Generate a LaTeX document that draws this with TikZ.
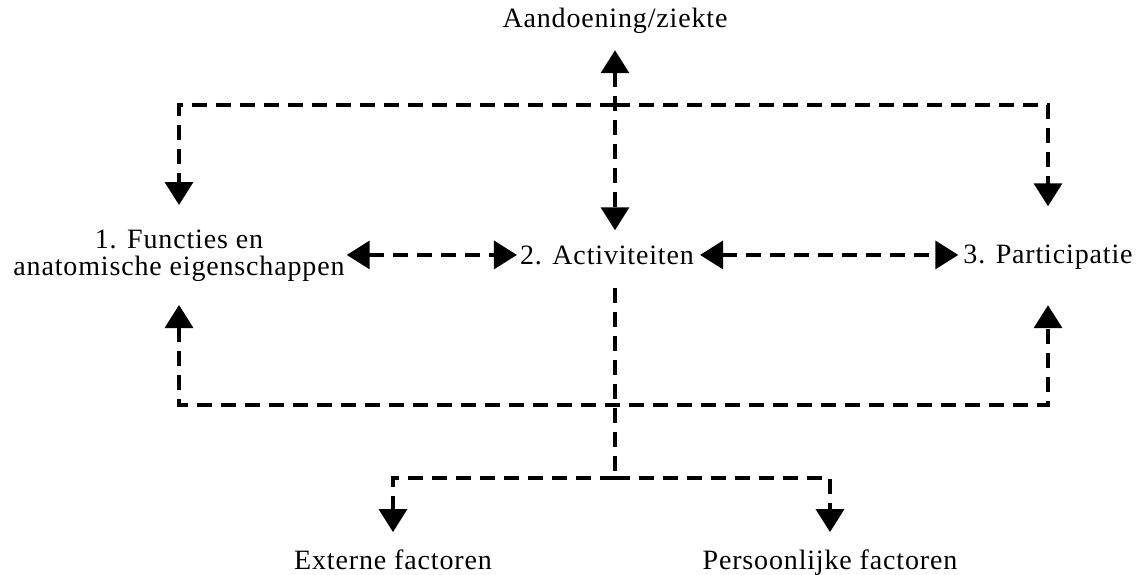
\documentclass[tikz,border=0pt]{standalone}
\usepackage{fontspec}
\setmainfont{Liberation Serif}[LetterSpace=3]
\usetikzlibrary{positioning,arrows.meta}

\tikzset{
  lbl/.style={font=\fontsize{28}{27}\selectfont, inner sep=0pt, align=center},
  dline/.style={line width=3.5pt, dash pattern=on 15pt off 9pt},
  arr/.style={dline, -{Triangle[length=23pt,width=28pt]}},
  darr/.style={dline, {Triangle[length=23pt,width=28pt]}-{Triangle[length=23pt,width=28pt]}},
}

\begin{document}
\begin{tikzpicture}[x=1pt, y=-1pt]
  \useasboundingbox (0,0) rectangle (1142,574);

  % the five boxes of the model
  \node[lbl, anchor=base] (ziekte) at (615,27) {Aandoening/ziekte};
  \node[lbl] (func) at (179,256) {1. Functies en\\anatomische eigenschappen};
  \node[lbl, anchor=base] (act) at (607,264) {2. Activiteiten};
  \node[lbl, anchor=base] (part) at (1048,263) {3. Participatie};
  \node[lbl, anchor=base] (ext) at (393,569) {Externe factoren};
  \node[lbl, anchor=base] (pers) at (830,569) {Persoonlijke factoren};

  % junctions
  \coordinate (cross) at (615,105);
  \coordinate (bot) at (615,405);
  \coordinate (split) at (615,478);

  % aandoening <-> activiteiten
  \draw[darr, shorten <=17pt, shorten >=15pt] (ziekte.south) -- (ziekte.south |- act.north);
  % top: to functies and participatie
  \draw[arr, shorten >=25pt] (cross) -| (func.north);
  \draw[arr, shorten >=38pt] (cross) -| (part.north);

  % middle row
  \draw[darr, shorten <=2pt, shorten >=3pt] (act.west -| func.east) -- (act.west);
  \draw[darr, shorten <=6pt, shorten >=5pt] (act.east) -- (act.east -| part.west);

  % bottom loop
  \draw[darr, shorten <=23pt, shorten >=36pt] (func.south) |- (bot) -| (part.south);

  % factors
  \draw[dline, shorten <=23pt] (split |- act.south) -- (split);
  \draw[arr, shorten >=17pt] (split) -| (ext.north);
  \draw[arr, shorten >=17pt] (split) -| (pers.north);
\end{tikzpicture}
\end{document}
